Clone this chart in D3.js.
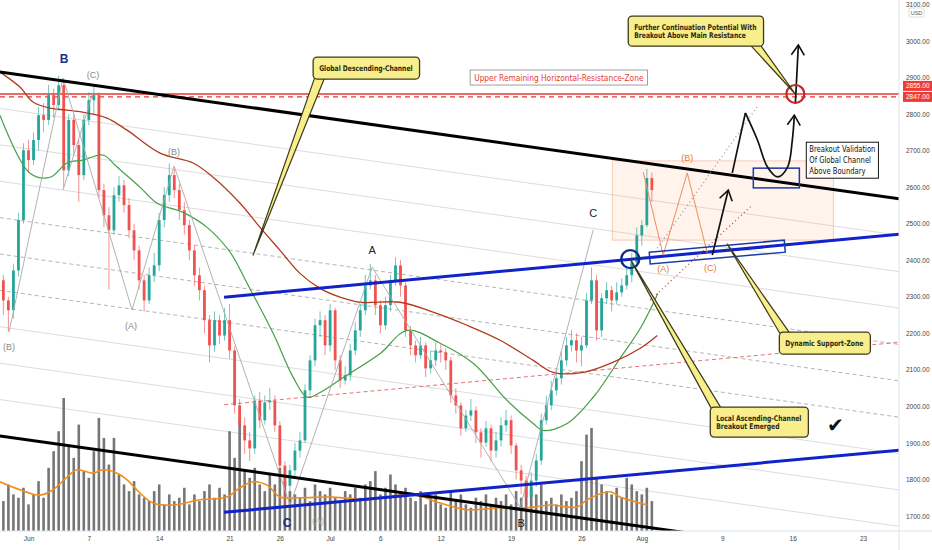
<!DOCTYPE html>
<html>
<head>
<meta charset="utf-8">
<script src="https://cdn.jsdelivr.net/npm/d3@7"></script>
<style>
  body { margin: 0; background: #fff; }
  svg { display: block; font-family: "Liberation Sans Narrow", "DejaVu Sans Condensed", "Liberation Sans", sans-serif; }
</style>
</head>
<body>
<div id="chart"></div>
<script>
// ---- data (ETHUSD, 12h candles starting 2021-05-29) ----
const priceTicks = [3100, 3000, 2900, 2800, 2700, 2600, 2500, 2400, 2300, 2200, 2100, 2000, 1900, 1800, 1700];
const dateTicks = ["2021-06-01", "2021-06-07", "2021-06-14", "2021-06-21", "2021-06-26", "2021-07-01", "2021-07-06",
  "2021-07-12", "2021-07-19", "2021-07-26", "2021-08-01", "2021-08-09", "2021-08-16", "2021-08-23"];
const dateLabels = ["Jun", "7", "14", "21", "26", "Jul", "6", "12", "19", "26", "Aug", "9", "16", "23"];

// [open, high, low, close]
const candles = [
  [2320, 2370, 2300, 2345], [2345, 2360, 2250, 2290], [2290, 2300, 2205, 2263], [2263, 2390, 2240, 2372],
  [2372, 2530, 2355, 2510], [2510, 2720, 2500, 2701], [2701, 2730, 2640, 2674], [2674, 2750, 2660, 2729],
  [2729, 2820, 2700, 2797], [2797, 2830, 2750, 2784], [2784, 2880, 2770, 2852], [2852, 2870, 2790, 2825],
  [2825, 2905, 2810, 2879], [2879, 2890, 2600, 2646], [2646, 2800, 2630, 2784], [2784, 2800, 2690, 2715],
  [2715, 2730, 2560, 2633], [2633, 2800, 2620, 2784], [2784, 2860, 2770, 2838], [2838, 2880, 2800, 2852],
  [2852, 2860, 2570, 2592], [2592, 2610, 2490, 2523], [2523, 2545, 2320, 2482], [2482, 2600, 2470, 2578],
  [2578, 2630, 2560, 2605], [2605, 2620, 2530, 2551], [2551, 2570, 2460, 2482], [2482, 2500, 2400, 2427],
  [2427, 2440, 2320, 2345], [2345, 2360, 2260, 2290], [2290, 2380, 2280, 2359], [2359, 2420, 2340, 2386],
  [2386, 2530, 2370, 2510], [2510, 2600, 2490, 2578], [2578, 2665, 2560, 2633], [2633, 2650, 2570, 2592],
  [2592, 2610, 2510, 2537], [2537, 2560, 2470, 2496], [2496, 2510, 2400, 2427], [2427, 2440, 2330, 2359],
  [2359, 2380, 2290, 2318], [2318, 2330, 2200, 2236], [2236, 2250, 2120, 2167], [2167, 2260, 2150, 2236],
  [2236, 2250, 2170, 2194], [2194, 2270, 2180, 2236], [2236, 2280, 2130, 2153], [2153, 2165, 1980, 2003],
  [2003, 2020, 1920, 1948], [1948, 1970, 1870, 1907], [1907, 1930, 1850, 1885], [1885, 2030, 1870, 2016],
  [2016, 2040, 1940, 1962], [1962, 2030, 1950, 2011], [2011, 2050, 1990, 2016], [2016, 2030, 1930, 1948],
  [1948, 1960, 1810, 1838], [1838, 1850, 1730, 1783], [1783, 1840, 1760, 1825], [1825, 1900, 1810, 1879],
  [1879, 1930, 1860, 1907], [1907, 2060, 1900, 2044], [2044, 2140, 2030, 2126], [2126, 2240, 2110, 2222],
  [2222, 2260, 2190, 2236], [2236, 2250, 2140, 2167], [2167, 2280, 2150, 2263], [2263, 2270, 2100, 2126],
  [2126, 2140, 2050, 2071], [2071, 2110, 2060, 2085], [2085, 2170, 2070, 2153], [2153, 2230, 2140, 2208],
  [2208, 2280, 2190, 2263], [2263, 2360, 2250, 2331], [2331, 2390, 2320, 2345], [2345, 2360, 2250, 2277],
  [2277, 2290, 2200, 2222], [2222, 2300, 2210, 2277], [2277, 2360, 2260, 2345], [2345, 2408, 2330, 2386],
  [2386, 2400, 2300, 2331], [2331, 2340, 2190, 2208], [2208, 2220, 2140, 2167], [2167, 2180, 2120, 2140],
  [2140, 2190, 2130, 2167], [2167, 2175, 2080, 2104], [2104, 2150, 2090, 2126], [2126, 2175, 2110, 2153],
  [2153, 2170, 2120, 2148], [2148, 2160, 2100, 2126], [2126, 2135, 2010, 2030], [2030, 2050, 1980, 2003],
  [2003, 2010, 1920, 1940], [1940, 1990, 1930, 1975], [1975, 2020, 1960, 1989], [1989, 2000, 1900, 1929],
  [1929, 1940, 1860, 1901], [1901, 1960, 1890, 1940], [1940, 1950, 1850, 1879], [1879, 1930, 1860, 1907],
  [1907, 1970, 1890, 1948], [1948, 1990, 1930, 1962], [1962, 1975, 1870, 1893], [1893, 1900, 1800, 1825],
  [1825, 1840, 1760, 1797], [1797, 1810, 1720, 1751], [1751, 1820, 1740, 1797], [1797, 1870, 1780, 1852],
  [1852, 1980, 1840, 1962], [1962, 2030, 1950, 2003], [2003, 2070, 1990, 2044], [2044, 2100, 2030, 2077],
  [2077, 2150, 2060, 2126], [2126, 2190, 2110, 2167], [2167, 2210, 2150, 2181], [2181, 2200, 2120, 2153],
  [2153, 2190, 2110, 2167], [2167, 2310, 2160, 2290], [2290, 2380, 2280, 2345], [2345, 2360, 2180, 2208],
  [2208, 2310, 2190, 2296], [2296, 2340, 2280, 2318], [2318, 2330, 2260, 2290], [2290, 2340, 2280, 2312],
  [2312, 2350, 2300, 2331], [2331, 2380, 2320, 2359], [2359, 2420, 2340, 2394], [2394, 2490, 2380, 2468],
  [2468, 2510, 2440, 2496], [2496, 2650, 2490, 2625], [2625, 2640, 2560, 2592]
];

const volumes = [60, 45, 70, 55, 50, 65, 40, 55, 75, 50, 95, 120, 150, 200, 130, 110, 160, 90, 80, 120,
  170, 140, 100, 140, 85, 70, 60, 75, 55, 50, 45, 60, 70, 40, 55, 45, 50, 65, 40, 55,
  45, 60, 70, 50, 65, 55, 150, 110, 165, 90, 80, 95, 70, 60, 85, 70, 95, 75, 60, 55,
  50, 65, 45, 70, 60, 55, 65, 50, 45, 60, 55, 65, 50, 70, 75, 90, 55, 65, 85, 70,
  60, 65, 50, 45, 60, 40, 50, 55, 40, 35, 60, 45, 55, 40, 35, 50, 45, 55, 40, 50,
  45, 55, 40, 60, 50, 75, 65, 55, 70, 45, 50, 40, 55, 45, 50, 60, 105, 145, 155, 80,
  70, 60, 55, 65, 50, 80, 70, 60, 55, 65, 45];

// moving averages: [days since May 29, value]
const maGreen = [[0.16, 2797], [3.15, 2638], [5.14, 2627], [6.83, 2666], [8.42, 2674], [10.41, 2688],
  [11.81, 2655], [14.09, 2600], [15.79, 2556], [18.37, 2531], [20.76, 2490], [23.05, 2422], [24.74, 2337],
  [27.33, 2200], [29.32, 2080], [30.71, 2025], [32.0, 2038], [34.3, 2079], [37.98, 2145], [40.66, 2208],
  [43.94, 2173], [47.23, 2118], [50.61, 2016], [53.2, 1953], [54.19, 1934], [56.58, 1953], [59.17, 2025],
  [61.9, 2134], [63.9, 2216], [65.6, 2309]];
const maBrown = [[0.16, 2915], [2.15, 2874], [3.45, 2833], [5.14, 2816], [6.83, 2811], [8.82, 2803],
  [10.81, 2789], [12.8, 2756], [16.08, 2693], [19.37, 2666], [21.36, 2627], [24.04, 2556], [26.03, 2490],
  [28.02, 2427], [30.0, 2364], [32.0, 2323], [33.98, 2299], [35.97, 2285], [39.95, 2285], [43.24, 2258],
  [46.62, 2222], [49.91, 2181], [53.2, 2126], [55.19, 2093], [58.17, 2093], [61.16, 2121], [63.85, 2159],
  [65.54, 2194]];
const volMA = [[0.16, 74], [2.15, 62], [4.14, 54], [5.44, 62], [6.83, 81], [7.83, 92], [9.42, 87],
  [10.41, 92], [11.81, 87], [12.8, 77], [14.09, 57], [15.39, 42], [17.38, 39], [20.07, 47], [22.75, 51],
  [24.04, 65], [25.34, 74], [26.73, 69], [28.02, 51], [30.0, 50], [33.3, 51], [36.68, 47], [39.96, 54],
  [41.66, 54], [43.94, 42], [46.63, 32], [49.9, 35], [52.6, 35], [54.88, 39], [57.57, 36], [58.56, 47],
  [60.85, 59], [61.84, 51], [64.53, 39]];

// drawings, anchored in [days since May 29, price]
const resistance = [2855, 2847];
const descTop = [[0.16, 2915], [89.6, 2568]];
const descBottom = [[0.16, 1919], [89.6, 1572]];
const descLevels = [0.1, 0.2, 0.3, 0.4, 0.5, 0.6, 0.7, 0.8, 0.9];
const descDashed = [0.4, 0.5, 0.6];
const ascTop = [[22.45, 2299], [89.6, 2471]];
const ascBottom = [[22.45, 1710], [89.6, 1880]];
const waveLines = [
  [[1.06, 2203], [6.43, 2899], [13.3, 2264], [17.48, 2658], [29.02, 1730]],
  [[6.43, 2592], [9.42, 2860]],
  [[29.02, 1730], [37.18, 2381], [51.9, 1724], [59.17, 2483]]
];
const orangeWave = [[64.14, 2641], [66.13, 2414], [68.52, 2639], [70.51, 2420]];
const projectionBox = [[61.07, 2672], [83.06, 2455]];
const grayDotted = [[65.54, 2433], [75.59, 2825]];
const redDotted = [[64.84, 2291], [74.99, 2551]];
const arrowUp1 = [[71.01, 2414], [72.6, 2592]];
const arrowRise = [[73.0, 2639], [74.3, 2803]];
const arrowRetest = [[74.3, 2803], [75.5, 2729], [76.5, 2655], [77.5, 2628], [78.5, 2655], [78.97, 2729], [79.17, 2797]];
const arrowUp2 = [[79.27, 2828], [79.57, 2989]];
const validationBox = [[75.09, 2652], [79.67, 2598]];
const supportZone = [[64.74, 2422], [78.17, 2455], [78.27, 2422], [64.84, 2390]];
const breakoutCircle = [62.85, 2403];
const targetCircle = [79.27, 2855];
const checkMark = [83.25, 1949];

const waveLabels = [
  ["B", 6.53, 2951, "navy"], ["(C)", 9.42, 2907, "minor"], ["(B)", 17.48, 2696, "minor"],
  ["(A)", 13.2, 2220, "minor"], ["(B)", 1.06, 2163, "minor"], ["A", 37.18, 2428, "major"],
  ["C", 59.17, 2529, "major"], ["C", 28.72, 1681, "navy"], ["(A)", 31.8, 1686, "faint"],
  ["B", 52.0, 1681, "major"], ["(B)", 68.52, 2680, "orange"], ["(A)", 66.13, 2376, "orange"],
  ["(C)", 70.81, 2379, "orange"]
];

const callouts = [
  { lines: ["Global Descending-Channel"], box: [31.31, 2956], tip: [25.34, 2414], edge: "bottom", at: 0.06 },
  { lines: ["Further Continuation Potential With", "Breakout Above Main Resistance"], box: [62.65, 3068], tip: [79.27, 2855], edge: "bottom", at: 0.94 },
  { lines: ["Local Ascending-Channel", "Breakout Emerged"], box: [70.81, 1998], tip: [62.85, 2403], edge: "top", at: 0.06 },
  { lines: ["Dynamic Support-Zone"], box: [77.68, 2203], tip: [72.5, 2444], edge: "top", at: 0.06 }
];
const resistanceNote = { text: "Upper Remaining Horizontal-Resistance-Zone", at: [46.93, 2900] };
const validationNote = { lines: ["Breakout Validation", "Of Global Channel", "Above Boundary"], at: [80.36, 2723] };

// ---- chart ----
const width = 932, height = 550;
const W = 899, H = 531;

const start = new Date(2021, 4, 29);
const day = (d) => new Date(start.getTime() + d * 864e5);
const parseDate = d3.timeParse("%Y-%m-%d");

const x = d3.scaleTime().domain([new Date(2021, 5, 1), new Date(2021, 7, 23)]).range([28.5, 863]);
const y = d3.scaleLinear().domain([1700, 3000]).range([516, 41]);
const vy = d3.scaleLinear().domain([0, 200]).range([H, 398]);
const px = (pt) => [x(day(pt[0])), y(pt[1])];

// narrow the text a little, the chart's own font is condensed
function squeeze(sel, f) {
  sel.each(function () {
    const len = this.getComputedTextLength();
    d3.select(this).attr("textLength", len * f).attr("lengthAdjust", "spacingAndGlyphs");
  });
}

const svg = d3.select("#chart").append("svg").attr("width", width).attr("height", height);

const defs = svg.append("defs");
defs.append("clipPath").attr("id", "plot").append("rect").attr("width", W).attr("height", H);
defs.append("marker")
  .attr("id", "chev").attr("viewBox", "-11 -8 13 16")
  .attr("markerWidth", 13).attr("markerHeight", 16)
  .attr("markerUnits", "userSpaceOnUse").attr("orient", "auto").attr("refX", 0).attr("refY", 0)
  .append("path").attr("d", "M-10,-6.5 L0,0 L-10,6.5").attr("fill", "none").attr("stroke", "#111").attr("stroke-width", 1.6);

const plot = svg.append("g").attr("clip-path", "url(#plot)");
const lineGen = d3.line().x((d) => px(d)[0]).y((d) => px(d)[1]);

// descending channel levels
const levelLine = (k) => descTop.map((p, i) => [p[0], p[1] + (descBottom[i][1] - p[1]) * k]);
descLevels.forEach((k) => {
  const dashed = descDashed.includes(k);
  plot.append("path").attr("d", lineGen(levelLine(k))).attr("fill", "none")
    .attr("stroke", dashed ? "#b4b4b4" : "#dcdcdc").attr("stroke-width", 1)
    .attr("stroke-dasharray", dashed ? "4,3" : null);
});
// ascending channel mid line
plot.append("path")
  .attr("d", lineGen(ascTop.map((p, i) => [p[0], (p[1] + ascBottom[i][1]) / 2])))
  .attr("fill", "none").attr("stroke", "#e57373").attr("stroke-width", 1).attr("stroke-dasharray", "4,3");

// projection box
const [pb0, pb1] = [px(projectionBox[0]), px(projectionBox[1])];
plot.append("rect").attr("x", pb0[0]).attr("y", pb0[1]).attr("width", pb1[0] - pb0[0]).attr("height", pb1[1] - pb0[1])
  .attr("fill", "rgba(255,176,120,0.15)").attr("stroke", "rgba(235,150,110,0.45)").attr("stroke-width", 1);

// resistance lines
resistance.forEach((r, i) => {
  plot.append("line").attr("x1", 0).attr("x2", W).attr("y1", y(r)).attr("y2", y(r))
    .attr("stroke", "#e53935").attr("stroke-width", 1.3).attr("stroke-dasharray", i ? "5,4" : null);
});

// volume
const barX = (i) => x(day(i * 0.5));
plot.append("g").selectAll("rect").data(volumes).join("rect")
  .attr("x", (d, i) => barX(i) - 1.3).attr("width", 2.6)
  .attr("y", (d) => vy(d)).attr("height", (d) => H - vy(d))
  .attr("fill", "#5e5e5e").attr("opacity", 0.85);
plot.append("path")
  .attr("d", d3.line().curve(d3.curveCatmullRom).x((d) => x(day(d[0]))).y((d) => vy(d[1]))(volMA))
  .attr("fill", "none").attr("stroke", "#f28c1b").attr("stroke-width", 1.6);

// candles
const cg = plot.append("g").selectAll("g").data(candles).join("g");
const candleColor = (d) => (d[3] >= d[0] ? "#26a69a" : "#ef5350");
cg.append("line")
  .attr("x1", (d, i) => barX(i)).attr("x2", (d, i) => barX(i))
  .attr("y1", (d) => y(d[1])).attr("y2", (d) => y(d[2]))
  .attr("stroke", candleColor).attr("stroke-width", 0.8).attr("opacity", 0.8);
cg.append("rect")
  .attr("x", (d, i) => barX(i) - 1.4).attr("width", 2.8)
  .attr("y", (d) => y(Math.max(d[0], d[3])))
  .attr("height", (d) => Math.max(1, Math.abs(y(d[0]) - y(d[3]))))
  .attr("fill", candleColor);

// moving averages
const smooth = d3.line().curve(d3.curveCatmullRom).x((d) => px(d)[0]).y((d) => px(d)[1]);
plot.append("path").attr("d", smooth(maGreen)).attr("fill", "none").attr("stroke", "#43a047").attr("stroke-width", 1.2);
plot.append("path").attr("d", smooth(maBrown)).attr("fill", "none").attr("stroke", "#b23a1e").attr("stroke-width", 1.3);

// wave connectors
waveLines.forEach((w) => {
  plot.append("path").attr("d", lineGen(w)).attr("fill", "none").attr("stroke", "#a9a9a9").attr("stroke-width", 0.9);
});

// channels
[descTop, descBottom].forEach((l) => {
  plot.append("path").attr("d", lineGen(l)).attr("stroke", "#000").attr("stroke-width", 3);
});
[ascTop, ascBottom].forEach((l) => {
  plot.append("path").attr("d", lineGen(l)).attr("stroke", "#1022c8").attr("stroke-width", 3);
});

// projection drawings
plot.append("path").attr("d", lineGen(orangeWave)).attr("fill", "none").attr("stroke", "#f08a5d").attr("stroke-width", 1);
plot.append("path").attr("d", lineGen(grayDotted)).attr("stroke", "#8f8f8f").attr("stroke-width", 1.2).attr("stroke-dasharray", "1,3");
plot.append("path").attr("d", lineGen(redDotted)).attr("stroke", "#c0392b").attr("stroke-width", 1.2).attr("stroke-dasharray", "1,3");

plot.append("path").attr("d", d3.line()(supportZone.map(px)) + "Z")
  .attr("fill", "none").attr("stroke", "#1a3aa8").attr("stroke-width", 1.5);
const [vb0, vb1] = [px(validationBox[0]), px(validationBox[1])];
plot.append("rect").attr("x", vb0[0]).attr("y", vb0[1]).attr("width", vb1[0] - vb0[0]).attr("height", vb1[1] - vb0[1])
  .attr("fill", "none").attr("stroke", "#1a3aa8").attr("stroke-width", 1.5);

[arrowUp1, arrowRise, arrowUp2].forEach((a, i) => {
  plot.append("path").attr("d", lineGen(a)).attr("fill", "none").attr("stroke", "#111").attr("stroke-width", 1.7)
    .attr("marker-end", i === 1 ? null : "url(#chev)");
});
plot.append("path").attr("d", smooth(arrowRetest)).attr("fill", "none").attr("stroke", "#111")
  .attr("stroke-width", 1.7).attr("marker-end", "url(#chev)");

plot.append("circle").attr("cx", px(breakoutCircle)[0]).attr("cy", px(breakoutCircle)[1]).attr("r", 9)
  .attr("fill", "none").attr("stroke", "#0d2a8a").attr("stroke-width", 2.4);
plot.append("circle").attr("cx", px(targetCircle)[0]).attr("cy", px(targetCircle)[1]).attr("r", 9)
  .attr("fill", "none").attr("stroke", "#c62828").attr("stroke-width", 2.2);

// wave labels
const labelStyle = {
  navy: { fill: "#1a2f8a", size: 12, weight: "bold" },
  major: { fill: "#222", size: 11, weight: "normal" },
  minor: { fill: "#8a8a8a", size: 9, weight: "normal" },
  faint: { fill: "#b5b5b5", size: 9, weight: "normal" },
  orange: { fill: "#ec7a32", size: 9, weight: "normal" }
};
waveLabels.forEach(([t, d, p, kind]) => {
  const s = labelStyle[kind];
  plot.append("text").attr("x", x(day(d))).attr("y", y(p)).attr("text-anchor", "middle")
    .attr("dominant-baseline", "central").attr("font-family", "Liberation Sans, sans-serif")
    .attr("font-size", s.size).attr("font-weight", s.weight).attr("fill", s.fill).text(t);
});

// check mark
plot.append("text").attr("x", px(checkMark)[0]).attr("y", px(checkMark)[1]).attr("text-anchor", "middle")
  .attr("dominant-baseline", "central").attr("font-family", "DejaVu Sans").attr("font-size", 20)
  .attr("fill", "#111").text("\u2714");

// resistance note
const rn = svg.append("g");
const rnPos = px(resistanceNote.at);
const rnText = rn.append("text").attr("x", rnPos[0] + 4).attr("y", rnPos[1] + 3.2)
  .attr("font-size", 9).attr("fill", "#e53935").text(resistanceNote.text);
squeeze(rnText, 0.92);
const rnW = rnText.node().getComputedTextLength();
rn.insert("rect", "text").attr("x", rnPos[0]).attr("y", rnPos[1] - 7.5).attr("width", rnW + 8)
  .attr("height", 15).attr("fill", "#fff").attr("stroke", "#9e9e9e").attr("stroke-width", 1);

// validation note
const vn = svg.append("g");
const vnPos = px(validationNote.at);
const vnText = vn.append("text").attr("font-size", 9).attr("fill", "#111");
validationNote.lines.forEach((l, i) => vnText.append("tspan").attr("x", vnPos[0] + 3).attr("y", vnPos[1] + 10 + i * 11).text(l));
squeeze(vnText.selectAll("tspan"), 0.84);
const vnW = d3.max(vnText.selectAll("tspan").nodes(), (n) => +n.getAttribute("textLength"));
vn.insert("rect", "text").attr("x", vnPos[0]).attr("y", vnPos[1]).attr("width", vnW + 6)
  .attr("height", 36).attr("fill", "#fff").attr("stroke", "#111").attr("stroke-width", 1);

// callouts
const yellow = "#f9ee8c", edgeCol = "#3b3a1c";
callouts.forEach((c) => {
  const g = svg.append("g");
  const [bx, by] = px(c.box);
  const t = g.append("text").attr("font-size", 7.8).attr("font-weight", "bold").attr("fill", "#2a2a10");
  c.lines.forEach((l, i) => t.append("tspan").attr("x", bx + 6).attr("y", by + 13.5 + i * 8).text(l));
  squeeze(t.selectAll("tspan"), 0.86);
  const tw = d3.max(t.selectAll("tspan").nodes(), (n) => +n.getAttribute("textLength"));
  const w = tw + 13, h = 14 + 8 * c.lines.length;
  const baseY = c.edge === "bottom" ? by + h - 1 : by + 1;
  const baseX = bx + c.at * w;
  const [tx, ty] = px(c.tip);
  g.insert("path", "text").attr("d", `M${baseX - 5},${baseY}L${tx},${ty}L${baseX + 5},${baseY}Z`)
    .attr("fill", yellow).attr("stroke", edgeCol).attr("stroke-width", 1.2).attr("stroke-linejoin", "round");
  g.insert("rect", "text").attr("x", bx).attr("y", by).attr("width", w).attr("height", h).attr("rx", 4)
    .attr("fill", yellow).attr("stroke", edgeCol).attr("stroke-width", 1.3);
});

// ---- axes ----
svg.append("line").attr("x1", W).attr("x2", W).attr("y1", 0).attr("y2", height).attr("stroke", "#e0e3eb");
svg.append("line").attr("x1", 0).attr("x2", width).attr("y1", H).attr("y2", H).attr("stroke", "#e0e3eb");

const yAxis = svg.append("g").attr("transform", `translate(${W},0)`)
  .call(d3.axisRight(y).tickValues(priceTicks).tickFormat(d3.format(".2f")).tickSize(0).tickPadding(7));
yAxis.select(".domain").remove();
yAxis.selectAll("text").attr("font-family", "Liberation Sans, sans-serif").attr("font-size", 6.5).attr("fill", "#444");

const xAxis = svg.append("g").attr("transform", `translate(0,${H})`)
  .call(d3.axisBottom(x).tickValues(dateTicks.map(parseDate)).tickFormat((d, i) => dateLabels[i]).tickSize(0).tickPadding(5));
xAxis.select(".domain").remove();
xAxis.selectAll("text").attr("font-family", "Liberation Sans, sans-serif").attr("font-size", 6.5).attr("fill", "#444");

// currency tag
svg.append("rect").attr("x", 909).attr("y", 8).attr("width", 15).attr("height", 9).attr("fill", "#fff")
  .attr("stroke", "#d6d6d6").attr("stroke-width", 0.8).attr("rx", 1);
svg.append("text").attr("x", 916.5).attr("y", 12.7).attr("text-anchor", "middle").attr("dominant-baseline", "central")
  .attr("font-family", "Liberation Sans, sans-serif").attr("font-size", 5.5).attr("fill", "#555").text("USD");

// resistance price tags, stacked so they don't overlap
resistance.slice().sort((a, b) => a - b).forEach((r, i) => {
  const cy = y(resistance[resistance.length - 1]) - i * 11;
  svg.append("rect").attr("x", W + 4).attr("y", cy - 5).attr("width", width - W - 4).attr("height", 10).attr("fill", "#ef3b36");
  svg.append("text").attr("x", W + 7).attr("y", cy).attr("dominant-baseline", "central")
    .attr("font-family", "Liberation Sans, sans-serif").attr("font-size", 6.5).attr("fill", "#fff")
    .text(d3.format(".2f")(r));
});
</script>
</body>
</html>
